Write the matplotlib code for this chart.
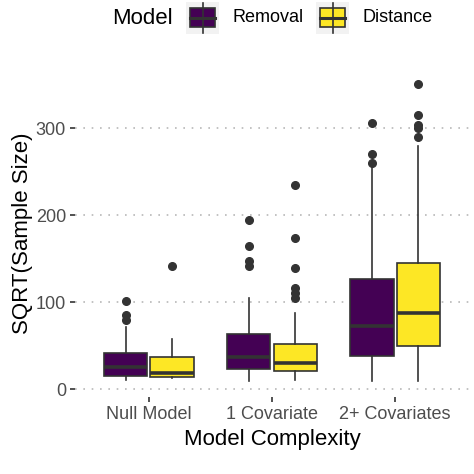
import matplotlib
matplotlib.use("Agg")
import matplotlib.pyplot as plt
from matplotlib.patches import Rectangle
from matplotlib.lines import Line2D

plt.rcParams["font.family"] = "Liberation Sans"

# --- data ------------------------------------------------------------------
complexity = ["Null Model", "1 Covariate", "2+ Covariates"]
models = ["Removal", "Distance"]
colors = {"Removal": "#440154", "Distance": "#FDE725"}

# per model: one value per complexity level
q1 = {"Removal": [15, 23, 38], "Distance": [14.5, 20.5, 50]}
med = {"Removal": [25, 37, 73], "Distance": [19, 30, 87]}
q3 = {"Removal": [42, 63.5, 127], "Distance": [36.5, 51.5, 145]}
whislo = {"Removal": [10, 9, 9], "Distance": [12.5, 10.5, 9]}
whishi = {"Removal": [72, 105, 258], "Distance": [57.5, 87, 280]}
fliers = {
    "Removal": [[80, 85, 101], [141, 147, 164, 195], [260, 270, 306]],
    "Distance": [[141], [105, 110, 116, 139, 174, 235], [290, 300, 304, 315, 351]],
}

EDGE = "#333333"

fig = plt.figure(figsize=(4.74, 4.74), dpi=100)
ax = fig.add_axes([75 / 474, 1 - 397 / 474, (469 - 75) / 474, (397 - 69) / 474])

offsets = {"Removal": -0.1875, "Distance": 0.1875}
for m in models:
    stats = []
    for i in range(len(complexity)):
        stats.append(dict(q1=q1[m][i], med=med[m][i], q3=q3[m][i],
                          whislo=whislo[m][i], whishi=whishi[m][i],
                          fliers=fliers[m][i]))
    pos = [i + 1 + offsets[m] for i in range(len(complexity))]
    ax.bxp(stats, positions=pos, widths=0.35, patch_artist=True,
           showcaps=False, manage_ticks=False,
           boxprops=dict(facecolor=colors[m], edgecolor=EDGE, linewidth=1.2),
           medianprops=dict(color=EDGE, linewidth=2.6, solid_capstyle="butt"),
           whiskerprops=dict(color=EDGE, linewidth=1.2),
           flierprops=dict(marker="o", markerfacecolor=EDGE,
                           markeredgecolor=EDGE, markersize=5.5))

ax.set_xlim(0.4, 3.6)
ax.set_ylim(-9, 368)
ax.set_xticks([1, 2, 3])
ax.set_xticklabels(complexity)
ax.set_yticks([0, 100, 200, 300])
ax.yaxis.grid(True, linestyle=(0, (1, 4)), color="#b8b8b8", linewidth=1.2)
ax.set_axisbelow(True)
for s in ax.spines.values():
    s.set_visible(False)
ax.tick_params(axis="both", colors=EDGE, length=3.5, width=1.2,
               labelsize=13, labelcolor="#4D4D4D", pad=3)
ax.set_xlabel("Model Complexity", fontsize=16, labelpad=4)
ax.set_ylabel("SQRT(Sample Size)", fontsize=16, labelpad=2)


# --- legend on top, drawn in figure pixels ---------------------------------
def px(x, y):
    return x / 474, 1 - y / 474


fig.text(*px(112, 18), "Model", fontsize=16, va="center", ha="left")
key_x = {"Removal": 186, "Distance": 316}
for m in models:
    x0 = key_x[m]
    bx, by = px(x0, 34)
    fig.add_artist(Rectangle((bx, by), 33 / 474, 32 / 474, transform=fig.transFigure,
                             facecolor="#F2F2F2", edgecolor="none"))
    fig.add_artist(Line2D([px(x0 + 16.5, 0)[0]] * 2, [px(0, 3)[1], px(0, 33)[1]],
                          transform=fig.transFigure, color=EDGE, linewidth=1.2))
    rx, ry = px(x0 + 4, 27)
    fig.add_artist(Rectangle((rx, ry), 25 / 474, 19 / 474, transform=fig.transFigure,
                             facecolor=colors[m], edgecolor=EDGE, linewidth=1.2))
    fig.add_artist(Line2D([px(x0 + 4, 0)[0], px(x0 + 29, 0)[0]], [px(0, 17.5)[1]] * 2,
                          transform=fig.transFigure, color=EDGE, linewidth=2.2))
    fig.text(*px(x0 + 46, 18), m, fontsize=13, va="center", ha="left")

fig.savefig("out.png", dpi=100)
